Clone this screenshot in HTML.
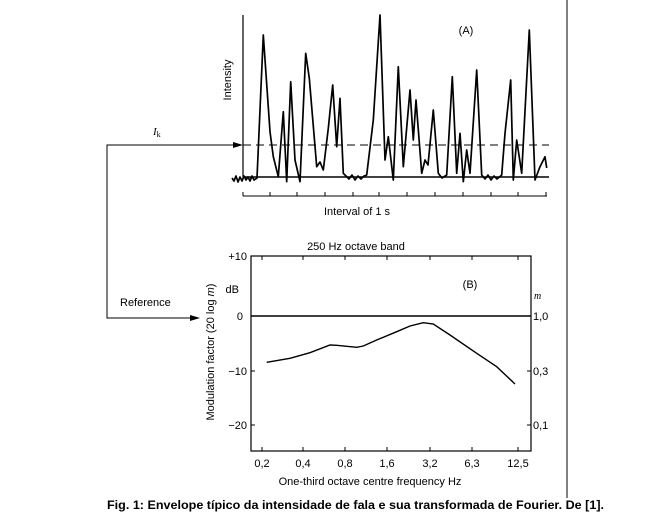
<!DOCTYPE html>
<html><head><style>
body{margin:0;background:#fff;width:662px;height:519px;overflow:hidden}
svg{font-family:"Liberation Sans",Arial,sans-serif}
</style></head><body>
<svg width="662" height="519" viewBox="0 0 662 519">
<line x1="567" y1="0" x2="567" y2="498" stroke="#000" stroke-width="1"/>
<!-- Panel A -->
<line x1="243" y1="15" x2="243" y2="178" stroke="#000" stroke-width="1.2"/>
<line x1="243" y1="177" x2="549" y2="177" stroke="#000" stroke-width="1.5"/>
<line x1="243" y1="145" x2="549" y2="145" stroke="#000" stroke-width="1" stroke-dasharray="8,5"/>
<line x1="243" y1="196" x2="547" y2="196" stroke="#000" stroke-width="1"/>
<g stroke="#000" stroke-width="1">
<line x1="243" y1="192" x2="243" y2="196"/><line x1="270" y1="192" x2="270" y2="196"/><line x1="297" y1="192" x2="297" y2="196"/><line x1="325" y1="192" x2="325" y2="196"/><line x1="353" y1="192" x2="353" y2="196"/><line x1="379" y1="192" x2="379" y2="196"/><line x1="407" y1="192" x2="407" y2="196"/><line x1="435" y1="192" x2="435" y2="196"/><line x1="463" y1="192" x2="463" y2="196"/><line x1="491" y1="192" x2="491" y2="196"/><line x1="518" y1="192" x2="518" y2="196"/><line x1="546" y1="192" x2="546" y2="196"/>
</g>
<polyline fill="none" stroke="#000" stroke-width="1.7" stroke-linejoin="round" points="232,178 234,181 236,176 238,182 240,177 242,181 244,176 246,180 248,177 250,181 252,176 254,180 257,178 263.3,35 270,131.7 273.3,156.7 278.3,176.7 283.3,111.7 286.7,181.7 290.7,81.7 295,160 300,181.7 305.7,53.3 309.3,78.3 316.7,166.7 320,162 323.3,170 328.3,128.3 332.7,85 336.7,146.7 340,98.3 343.3,173.3 346,176 349,179 352,175 355,180 358,176 361,179 364,176 366.7,175 373.3,120 380,15 385,160 388.3,136.7 393.3,180 398.3,66.7 403.3,166.7 410,90 413.3,140 416,100 421.7,173.3 425,160 428,165 433.3,110 438.3,173.3 442,178 446.7,175 452.3,76.7 456.7,173.3 460,133.3 463.3,181.7 466.7,150 470,173.3 476.7,70 481.7,175 485,179 488,175 491,180 494,176 497,179 501.7,175 505,133.3 510.7,80 513.3,180 516.7,140 521.7,173.3 529.3,30 535,180 540,166.7 545,156.7 546.7,168"/>
<text x="231" y="80" font-size="11" transform="rotate(-90 231 80)" text-anchor="middle">Intensity</text>
<text x="466" y="34" font-size="11" text-anchor="middle">(A)</text>
<text x="357" y="215" font-size="11" text-anchor="middle">Interval of 1 s</text>
<!-- bracket -->
<polyline fill="none" stroke="#000" stroke-width="1" points="241,145 107,145 107,318 198,318"/>
<polygon points="243,145 233,142 233,148" fill="#000"/>
<polygon points="200,318 190,315 190,321" fill="#000"/>
<text x="153" y="135" font-size="11" font-family="Liberation Serif" font-style="italic">I<tspan font-size="8" font-style="normal" dy="2">k</tspan></text>
<text x="120" y="306" font-size="11">Reference</text>
<!-- Panel B -->
<text x="356" y="250" font-size="11" text-anchor="middle">250 Hz octave band</text>
<rect x="251" y="256" width="280" height="195" fill="none" stroke="#000" stroke-width="1.2"/>
<line x1="251" y1="316" x2="531" y2="316" stroke="#000" stroke-width="1.5"/>
<g stroke="#000" stroke-width="1">
<line x1="251" y1="371" x2="255" y2="371"/><line x1="251" y1="425" x2="255" y2="425"/>
<line x1="527" y1="371" x2="531" y2="371"/><line x1="527" y1="425" x2="531" y2="425"/>
<line x1="262" y1="447" x2="262" y2="451"/><line x1="303" y1="447" x2="303" y2="451"/><line x1="345" y1="447" x2="345" y2="451"/><line x1="387" y1="447" x2="387" y2="451"/><line x1="430" y1="447" x2="430" y2="451"/><line x1="472" y1="447" x2="472" y2="451"/><line x1="518" y1="447" x2="518" y2="451"/>
<line x1="262" y1="256" x2="262" y2="260"/><line x1="303" y1="256" x2="303" y2="260"/><line x1="345" y1="256" x2="345" y2="260"/><line x1="387" y1="256" x2="387" y2="260"/><line x1="430" y1="256" x2="430" y2="260"/><line x1="472" y1="256" x2="472" y2="260"/><line x1="518" y1="256" x2="518" y2="260"/>
</g>
<path fill="none" stroke="#000" stroke-width="1.4" d="M266.7,362.3 L290,358.3 L310,352.7 L330,345 L336.7,345.3 L356.7,347.3 L363.3,346 L376.7,340 L396.7,331.7 L410,326 L423.3,322.7 L433.3,324 L450,335 L476.7,353.3 L496.7,366.7 L515,384"/>
<g font-size="11" text-anchor="end">
<text x="247" y="260">+10</text><text x="243" y="320">0</text><text x="247" y="375">−10</text><text x="247" y="429">−20</text>
</g>
<text x="239" y="293" font-size="11" text-anchor="end">dB</text>
<text x="470" y="288" font-size="11" text-anchor="middle">(B)</text>
<g font-size="11">
<text x="533" y="320">1,0</text><text x="533" y="375">0,3</text><text x="533" y="429">0,1</text>
</g>
<text x="534" y="299" font-size="10" font-style="italic" font-family="Liberation Serif">m</text>
<g font-size="11" text-anchor="middle">
<text x="262" y="467">0,2</text><text x="303" y="467">0,4</text><text x="345" y="467">0,8</text><text x="387" y="467">1,6</text><text x="430" y="467">3,2</text><text x="472" y="467">6,3</text><text x="518" y="467">12,5</text>
</g>
<text x="370" y="485" font-size="11" text-anchor="middle">One-third octave centre frequency    Hz</text>
<text x="214" y="352" font-size="11" transform="rotate(-90 214 352)" text-anchor="middle">Modulation factor (20 log <tspan font-style="italic">m</tspan>)</text>
<text x="107" y="509" font-size="12" font-weight="bold" textLength="497" lengthAdjust="spacingAndGlyphs">Fig. 1: Envelope típico da intensidade de fala e sua transformada de Fourier. De [1].</text>
</svg>
</body></html>
